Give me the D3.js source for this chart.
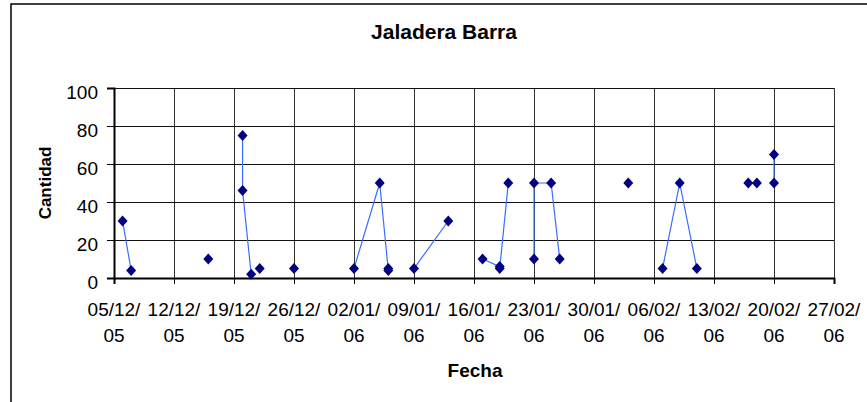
<!DOCTYPE html>
<html>
<head>
<meta charset="utf-8">
<script src="https://cdnjs.cloudflare.com/ajax/libs/d3/7.8.5/d3.min.js"></script>
<style>
  body { margin: 0; background: #fff; }
  svg { display: block; font-family: Arial, "Liberation Sans", sans-serif; }
</style>
</head>
<body>
<div id="chart"></div>
<script>
// Datos
const fechas = ['06/12/05', '07/12/05', '16/12/05', '20/12/05', '20/12/05', '21/12/05', '22/12/05', '26/12/05',
    '02/01/06', '05/01/06', '06/01/06', '06/01/06', '09/01/06', '13/01/06',
    '17/01/06', '19/01/06', '19/01/06', '20/01/06', '23/01/06', '23/01/06', '25/01/06', '26/01/06',
    '03/02/06', '07/02/06', '09/02/06', '11/02/06', '17/02/06', '18/02/06', '20/02/06', '20/02/06'];
const cantidades = [30, 4, 10, 75, 46, 2, 5, 5,
    5, 50, 4, 5, 5, 30,
    10, 6, 5, 50, 10, 50, 50, 10,
    50, 5, 50, 5, 50, 50, 50, 65];
// puntos con el mismo tramo van unidos por una linea
const tramos = [0, 0, 1, 2, 2, 2, 3, 4,
    5, 5, 5, 5, 6, 6,
    7, 7, 7, 7, 8, 8, 8, 8,
    9, 10, 10, 10, 11, 12, 13, 13];
const yTicks = [0, 20, 40, 60, 80, 100];
const xInicio = '05/12/05';
const xFin = '27/02/06';

const width = 867, height = 402;
const plot = { left: 114, right: 834, top: 88, bottom: 278 };

const parse = d3.timeParse('%d/%m/%y');
const datos = fechas.map((f, i) => ({ fecha: parse(f), valor: cantidades[i], tramo: tramos[i] }));

const svg = d3.select('#chart').append('svg')
    .attr('width', width)
    .attr('height', height);

// Borde del area del grafico
svg.append('rect')
    .attr('x', 11).attr('y', 4)
    .attr('width', 900).attr('height', 500)
    .attr('fill', 'none')
    .attr('stroke', '#000')
    .attr('stroke-width', 1.5);

const x = d3.scaleTime()
    .domain([parse(xInicio), parse(xFin)])
    .range([plot.left, plot.right]);
const y = d3.scaleLinear()
    .domain([0, 100])
    .range([plot.bottom, plot.top]);

const semanas = d3.timeMonday.range(parse(xInicio), d3.timeDay.offset(parse(xFin), 1));

// Cuadricula
svg.append('g')
    .selectAll('line')
    .data(semanas)
    .enter()
    .append('line')
    .attr('x1', d => Math.round(x(d)) + 0.5).attr('x2', d => Math.round(x(d)) + 0.5)
    .attr('y1', plot.top).attr('y2', plot.bottom)
    .attr('stroke', '#333');
svg.append('g')
    .selectAll('line')
    .data(yTicks)
    .enter()
    .append('line')
    .attr('x1', plot.left).attr('x2', plot.right)
    .attr('y1', d => Math.round(y(d)) + 0.5).attr('y2', d => Math.round(y(d)) + 0.5)
    .attr('stroke', '#111');

// Ejes
const ejeY = svg.append('g')
    .attr('transform', `translate(${plot.left},0)`)
    .call(d3.axisLeft(y).tickValues(yTicks).tickSize(7).tickPadding(9).tickFormat(d3.format('d')));
ejeY.select('.domain').attr('stroke-width', 2);
ejeY.selectAll('text').attr('font-size', 19).attr('dy', '0.55em').attr('fill', '#000');

const ejeX = svg.append('g')
    .attr('transform', `translate(0,${plot.bottom})`)
    .call(d3.axisBottom(x).tickValues(semanas).tickSize(6).tickFormat(''));
ejeX.select('.domain').attr('stroke-width', 2);

const etiquetas = svg.append('g')
    .selectAll('text')
    .data(semanas)
    .enter()
    .append('text')
    .attr('x', d => x(d))
    .attr('y', 316)
    .attr('text-anchor', 'middle')
    .attr('font-size', 19);
etiquetas.append('tspan')
    .attr('x', d => x(d))
    .text(d => d3.timeFormat('%d/%m/')(d));
etiquetas.append('tspan')
    .attr('x', d => x(d))
    .attr('dy', 25.5)
    .text(d => d3.timeFormat('%y')(d));

// Lineas por tramo
const linea = d3.line()
    .x(d => x(d.fecha))
    .y(d => y(d.valor));
svg.append('g')
    .selectAll('path')
    .data(d3.groups(datos, d => d.tramo).filter(g => g[1].length > 1))
    .enter()
    .append('path')
    .attr('d', d => linea(d[1]))
    .attr('fill', 'none')
    .attr('stroke', '#3a6cff')
    .attr('stroke-width', 1.2);

// Marcadores en rombo
svg.append('g')
    .selectAll('path')
    .data(datos)
    .enter()
    .append('path')
    .attr('transform', d => `translate(${x(d.fecha)},${y(d.valor)})`)
    .attr('d', 'M0,-5.5L5,0L0,5.5L-5,0Z')
    .attr('fill', '#000080');

// Titulos
svg.append('text')
    .attr('x', 444).attr('y', 39)
    .attr('text-anchor', 'middle')
    .attr('font-size', 21)
    .attr('font-weight', 'bold')
    .text('Jaladera Barra');
svg.append('text')
    .attr('x', 475).attr('y', 377)
    .attr('text-anchor', 'middle')
    .attr('font-size', 19)
    .attr('font-weight', 'bold')
    .text('Fecha');
svg.append('text')
    .attr('transform', 'translate(51,183) rotate(-90)')
    .attr('text-anchor', 'middle')
    .attr('font-size', 17)
    .attr('font-weight', 'bold')
    .text('Cantidad');
</script>
</body>
</html>
